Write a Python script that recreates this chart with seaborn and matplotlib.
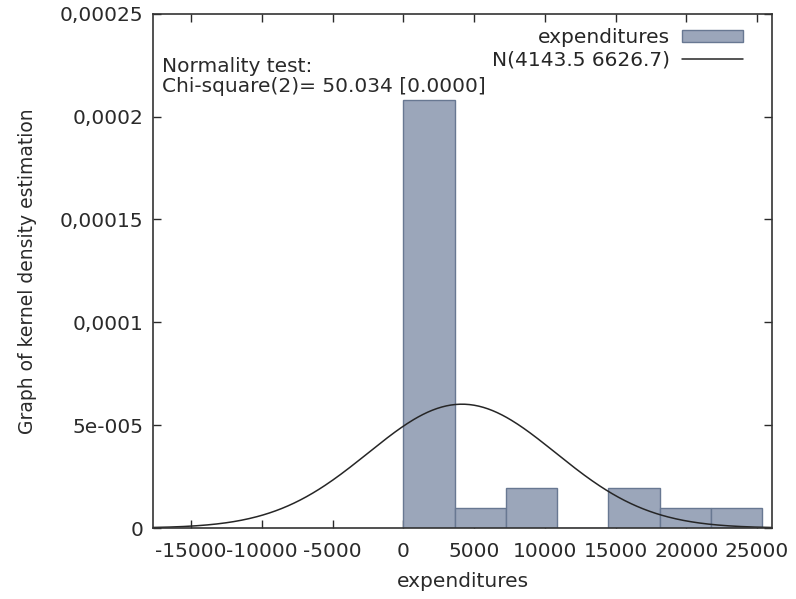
import numpy as np
import pandas as pd
import matplotlib
matplotlib.use('Agg')
import matplotlib.pyplot as plt
import seaborn as sns

# histogram bins (density scale)
bin_edges = [0, 3621, 7242, 10863, 14484, 18105, 21726, 25347]
bin_density = [2.08e-4, 0.96e-5, 1.96e-5, 0.0, 1.96e-5, 0.96e-5, 0.96e-5]

# fitted normal from the legend
norm_mean = 4143.5
norm_sd = 6626.7

x_ticks = [-15000, -10000, -5000, 0, 5000, 10000, 15000, 20000, 25000]
y_ticks = [0, 5e-5, 1e-4, 1.5e-4, 2e-4, 2.5e-4]
y_ticklabels = ['0', '5e-005', '0,0001', '0,00015', '0,0002', '0,00025']

sns.set_theme(style='ticks')
plt.rcParams['font.family'] = ['DejaVu Sans']

df = pd.DataFrame({
    'mid': [(a + b) / 2 for a, b in zip(bin_edges[:-1], bin_edges[1:])],
    'density': bin_density,
})

fig = plt.figure(figsize=(7.96, 5.99), dpi=100)
ax = fig.add_axes([0.192, 0.1185, 0.778, 0.8585])

sns.histplot(data=df, x='mid', weights='density', bins=bin_edges, stat='count',
             color='#9ba6ba', edgecolor='#687892', linewidth=1.0, alpha=1,
             ax=ax, label='expenditures')

xlim = (-17700, 26060)
xs = np.linspace(xlim[0], xlim[1], 400)
pdf = np.exp(-0.5 * ((xs - norm_mean) / norm_sd) ** 2) / (norm_sd * np.sqrt(2 * np.pi))
sns.lineplot(x=xs, y=pdf, color='#262626', linewidth=1.1, ax=ax,
             label='N(4143.5 6626.7)')

ax.set_xlim(*xlim)
ax.set_ylim(0, 2.5e-4)
ax.set_xticks(x_ticks)
ax.set_xticklabels([str(t) for t in x_ticks])
ax.set_yticks(y_ticks)
ax.set_yticklabels(y_ticklabels)
ax.tick_params(direction='in', length=6, width=1, top=True, right=True,
               labelsize=14.5, colors='#2a2a2a', pad=7)
ax.tick_params(axis='x', pad=10)
for s in ax.spines.values():
    s.set_color('#333333')
    s.set_linewidth(1.2)

ax.set_xlabel('expenditures', fontsize=14.5, color='#2a2a2a', labelpad=8)
ax.set_ylabel('Graph of kernel density estimation', fontsize=13.5, color='#2a2a2a', labelpad=16)

ax.text(0.015, 0.915, 'Normality test:\nChi-square(2)= 50.034 [0.0000]',
        transform=ax.transAxes, ha='left', va='top', fontsize=14.5,
        color='#2a2a2a', linespacing=1.05)

handles, labels = ax.get_legend_handles_labels()
order = [labels.index('expenditures'), labels.index('N(4143.5 6626.7)')]
ax.legend([handles[i] for i in order], [labels[i] for i in order],
          loc='upper right', frameon=False, markerfirst=False, fontsize=14.5,
          handlelength=3.0, handleheight=0.55, borderaxespad=0.3,
          labelspacing=0.2, handletextpad=0.6, bbox_to_anchor=(0.975, 1.0))

fig.savefig('out.png', dpi=100)
